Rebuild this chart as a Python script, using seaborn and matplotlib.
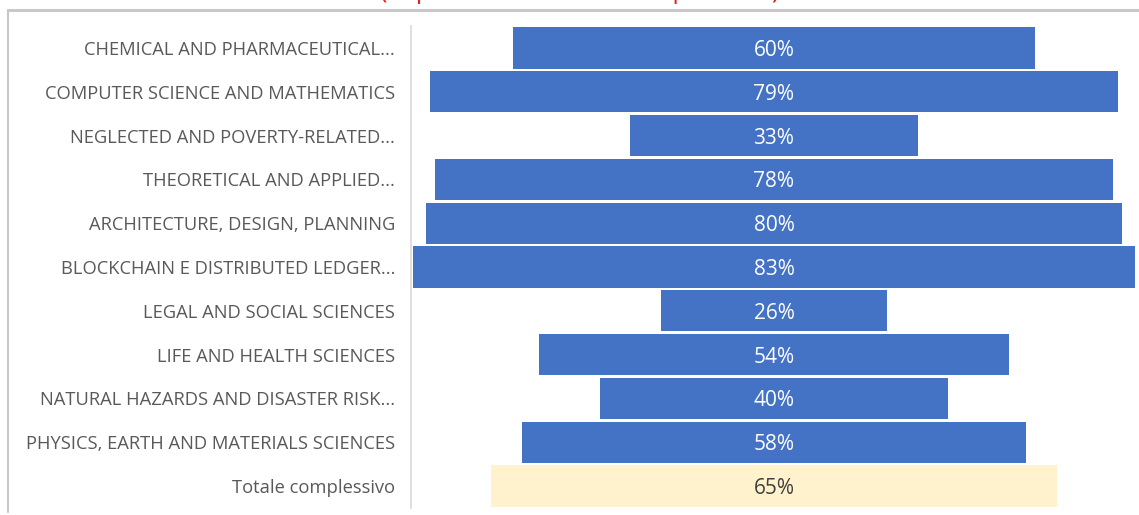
import pandas as pd
import matplotlib.pyplot as plt
import seaborn as sns
from matplotlib.lines import Line2D

# data
areas = [
    'CHEMICAL AND PHARMACEUTICAL...',
    'COMPUTER SCIENCE AND MATHEMATICS',
    'NEGLECTED AND POVERTY-RELATED...',
    'THEORETICAL AND APPLIED...',
    'ARCHITECTURE, DESIGN, PLANNING',
    'BLOCKCHAIN E DISTRIBUTED LEDGER...',
    'LEGAL AND SOCIAL SCIENCES',
    'LIFE AND HEALTH SCIENCES',
    'NATURAL HAZARDS AND DISASTER RISK...',
    'PHYSICS, EARTH AND MATERIALS SCIENCES',
    'Totale complessivo',
]
pct = [60, 79, 33, 78, 80, 83, 26, 54, 40, 58, 65]
title = '(risposte sul totale delle questioni)'

df = pd.DataFrame({'area': areas, 'pct': pct})
bar_colors = ['#4472C4'] * (len(areas) - 1) + ['#FFF2CC']

sns.set_style('white')
plt.rcParams['font.family'] = ['Open Sans', 'DejaVu Sans']

W, H = 1139, 515
fig = plt.figure(figsize=(W / 100, H / 100), dpi=100)
ax = fig.add_axes([411 / W, 1 - 508 / H, 726 / W, (508 - 26) / H])

sns.barplot(data=df, x='pct', y='area', hue='area', palette=bar_colors,
            saturation=1, legend=False, width=0.94, ax=ax)

# centre every bar on zero -> funnel look
for bar, v in zip(ax.patches, pct):
    bar.set_x(-v / 2)
    bar.set_linewidth(0)

for i, v in enumerate(pct):
    col = '#404040' if i == len(pct) - 1 else 'white'
    ax.text(0, i, f'{v}%', ha='center', va='center_baseline', color=col, fontsize=15)

ax.set_xlim(-41.7, 41.7)
ax.set_ylim(len(areas) - 0.5, -0.5)
ax.set_xlabel('')
ax.set_ylabel('')
ax.set_xticks([])
ax.tick_params(axis='y', length=0, pad=11.5, labelsize=13.2, labelcolor='#595959')
for s in ['top', 'right', 'bottom']:
    ax.spines[s].set_visible(False)
ax.spines['left'].set_color('#d9d9d9')
ax.spines['left'].set_linewidth(1.2)

# frame of the original slide and cut-off red title
fig.add_artist(Line2D([8 / W, 1], [1 - 10 / H] * 2, color='#c8c8c8', lw=2.2))
fig.add_artist(Line2D([8 / W] * 2, [1 - 10 / H, 1 - 512 / H], color='#c8c8c8', lw=1.5))
fig.text(580 / W, 1 + 2 / H, title, ha='center', va='baseline',
         color='#e02020', fontsize=18)

fig.savefig('out.png', dpi=100)
